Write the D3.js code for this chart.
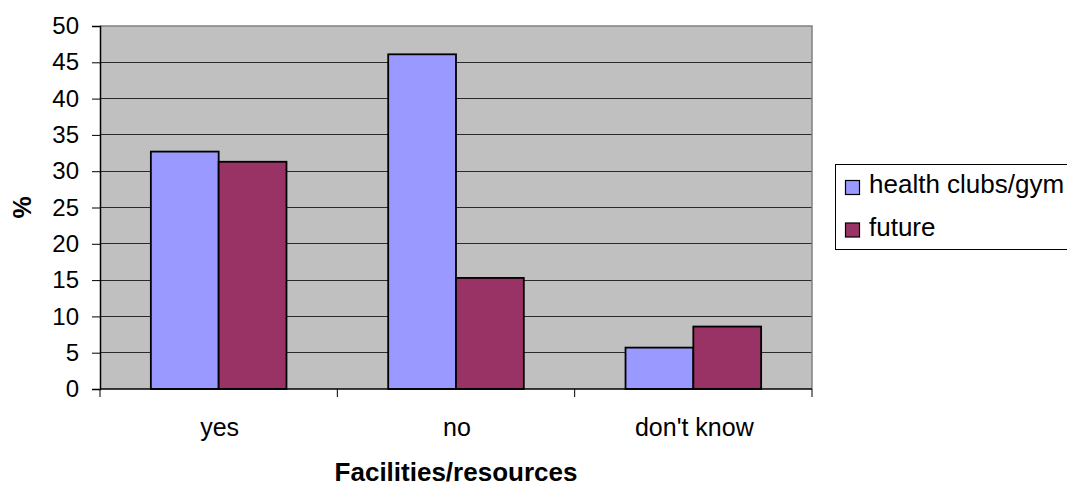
<!DOCTYPE html>
<html>
<head>
<meta charset="utf-8">
<script src="https://cdn.jsdelivr.net/npm/d3@7"></script>
<style>
  body { margin: 0; background: #fff; }
  svg text { font-family: "Liberation Sans", Arial, sans-serif; fill: #000; }
</style>
</head>
<body>
<div id="chart"></div>
<script>
// categories and series
const categories = ['yes', 'no', "don't know"];
const seriesNames = ['health clubs/gym', 'future'];
const healthClubs = [32.7, 46.1, 5.7];
const future = [31.3, 15.3, 8.6];
const yTicks = [0, 5, 10, 15, 20, 25, 30, 35, 40, 45, 50];

const width = 1067, height = 487;
const plot = {left: 100, top: 26, right: 812, bottom: 389};
const colors = ['#9999FF', '#993366'];

const svg = d3.select('#chart').append('svg')
    .attr('width', width)
    .attr('height', height);

let x = d3.scaleBand()
    .domain(categories)
    .range([plot.left, plot.right])
    .paddingInner(0)
    .paddingOuter(0);

// Excel gap width 150% -> two bars take 2/3.5 of the band
let x1 = d3.scaleBand()
    .domain(seriesNames)
    .range([0, x.bandwidth()])
    .paddingInner(0)
    .paddingOuter(0.75);

let y = d3.scaleLinear()
    .domain([0, 50])
    .range([plot.bottom, plot.top]);

// plot background
svg.append('rect')
    .attr('x', plot.left).attr('y', plot.top)
    .attr('width', plot.right - plot.left)
    .attr('height', plot.bottom - plot.top)
    .attr('fill', '#C0C0C0');

// gridlines
svg.append('g')
    .selectAll('line')
    .data(yTicks.filter(d => d > 0 && d < 50))
    .enter()
    .append('line')
    .attr('x1', plot.left).attr('x2', plot.right)
    .attr('y1', d => y(d)).attr('y2', d => y(d))
    .attr('stroke', '#2a2a2a')
    .attr('stroke-width', 1)
    .attr('shape-rendering', 'crispEdges');

// top and right border
svg.append('path')
    .attr('d', `M${plot.left},${plot.top}H${plot.right}V${plot.bottom}`)
    .attr('fill', 'none')
    .attr('stroke', '#808080')
    .attr('stroke-width', 1.5);

// bars
const rows = categories.map((c, i) => ({cat: c, values: [healthClubs[i], future[i]]}));
svg.append('g')
    .selectAll('g')
    .data(rows)
    .enter()
    .append('g')
    .attr('transform', d => 'translate(' + x(d.cat) + ',0)')
    .selectAll('rect')
    .data(d => d.values.map((v, j) => ({name: seriesNames[j], value: v, idx: j})))
    .enter()
    .append('rect')
    .attr('x', d => x1(d.name))
    .attr('y', d => y(d.value))
    .attr('width', x1.bandwidth())
    .attr('height', d => y(0) - y(d.value))
    .attr('fill', d => colors[d.idx])
    .attr('stroke', '#000')
    .attr('stroke-width', 1.8);

// y axis
const yAxis = svg.append('g')
    .attr('transform', 'translate(' + plot.left + ',0)')
    .call(d3.axisLeft(y).tickValues(yTicks).tickSize(8).tickPadding(13));
yAxis.select('.domain').attr('stroke', '#000').attr('stroke-width', 1.5);
yAxis.selectAll('.tick line').attr('stroke', '#000');
yAxis.selectAll('.tick text')
    .style('font-size', '24px')
    .attr('font-family', '"Liberation Sans", Arial, sans-serif');

// x axis: ticks at band boundaries, labels at band centres
const xAxisG = svg.append('g');
xAxisG.append('line')
    .attr('x1', plot.left).attr('x2', plot.right)
    .attr('y1', plot.bottom).attr('y2', plot.bottom)
    .attr('stroke', '#000').attr('stroke-width', 1.5);
const boundaries = categories.map(c => x(c)).concat([plot.right]);
xAxisG.selectAll('line.tick')
    .data(boundaries)
    .enter()
    .append('line')
    .attr('class', 'tick')
    .attr('x1', d => d).attr('x2', d => d)
    .attr('y1', plot.bottom).attr('y2', plot.bottom + 8)
    .attr('stroke', '#000');
xAxisG.selectAll('text')
    .data(categories)
    .enter()
    .append('text')
    .attr('x', d => x(d) + x.bandwidth() / 2 + 1)
    .attr('y', 436)
    .attr('text-anchor', 'middle')
    .style('font-size', '25px')
    .text(d => d);

// axis titles
svg.append('text')
    .attr('x', (plot.left + plot.right) / 2)
    .attr('y', 481)
    .attr('text-anchor', 'middle')
    .style('font-size', '26px')
    .style('font-weight', 'bold')
    .text('Facilities/resources');

svg.append('text')
    .attr('transform', 'translate(31,' + ((plot.top + plot.bottom) / 2) + ') rotate(-90)')
    .attr('text-anchor', 'middle')
    .style('font-size', '25px')
    .style('font-weight', 'bold')
    .text('%');

// legend
const legend = svg.append('g');
legend.append('rect')
    .attr('x', 835.5).attr('y', 164.5)
    .attr('width', 260).attr('height', 85)
    .attr('fill', '#fff')
    .attr('stroke', '#000')
    .attr('stroke-width', 1);
const items = legend.selectAll('g.item')
    .data(seriesNames)
    .enter()
    .append('g')
    .attr('class', 'item')
    .attr('transform', (d, i) => 'translate(845,' + (187.5 + i * 42.5) + ')');
items.append('rect')
    .attr('x', 0.5).attr('y', -7)
    .attr('width', 14).attr('height', 14)
    .attr('fill', (d, i) => colors[i])
    .attr('stroke', '#000')
    .attr('stroke-width', 1.2);
items.append('text')
    .attr('x', 24)
    .attr('y', 5.5)
    .style('font-size', '26px')
    .text(d => d);
</script>
</body>
</html>
